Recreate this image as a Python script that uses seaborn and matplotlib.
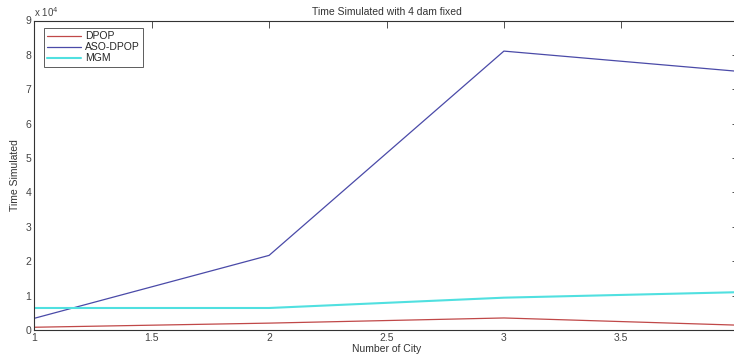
import matplotlib
matplotlib.use("Agg")
import matplotlib.pyplot as plt
import seaborn as sns
import pandas as pd

# Simulation time per number of cities, 4 dams fixed
cities = [1, 2, 3, 4]
dpop = [800, 2000, 3500, 1400]
aso_dpop = [3400, 21700, 81100, 75200]
mgm = [6400, 6400, 9400, 11000]

series_names = ["DPOP", "ASO-DPOP", "MGM"]
colors = ["#c04848", "#4a4aa8", "#50e0e0"]
widths = [0.9, 0.9, 1.5]

df = pd.DataFrame({
    "city": cities * 3,
    "time": dpop + aso_dpop + mgm,
    "method": [n for n in series_names for _ in cities],
})

sns.set_style("white")
plt.rcParams["font.family"] = ["Liberation Sans", "DejaVu Sans"]

fig = plt.figure(figsize=(7.34, 3.54), dpi=100)
W, H = 734, 354
left, right, top, bottom = 34.3, 738.7, 20.5, 330.0
ax = fig.add_axes([left / W, 1 - bottom / H, (right - left) / W, (bottom - top) / H])

for name, c, lw in zip(series_names, colors, widths):
    sub = df[df["method"] == name]
    sns.lineplot(data=sub, x="city", y="time", ax=ax, color=c, linewidth=lw,
                 label=name, estimator=None, sort=False)

ax.set_xlim(1, 4)
ax.set_ylim(0, 90000)
ax.set_xticks([1, 1.5, 2, 2.5, 3, 3.5])
ax.set_xticklabels(["1", "1.5", "2", "2.5", "3", "3.5"])
ax.set_yticks([i * 10000 for i in range(10)])
ax.set_yticklabels([str(i) for i in range(10)])
ax.tick_params(axis="both", which="both", direction="in", length=5, width=0.6,
               labelsize=7.5, colors="#333333", labelcolor="#444444",
               top=True, right=True, pad=2)
for s in ax.spines.values():
    s.set_visible(True)
    s.set_color("#333333")
    s.set_linewidth(0.8)

ax.text(0.0, 1.005, r"x 10$^4$", transform=ax.transAxes, fontsize=7,
        color="#444444", ha="left", va="bottom")
ax.set_xlabel("Number of City", fontsize=7.5, color="#333333", labelpad=1)
ax.set_ylabel("Time Simulated", fontsize=7.5, color="#333333", labelpad=4)
ax.set_title("Time Simulated with 4 dam fixed", fontsize=7.5, color="#333333", pad=4)

leg = ax.legend(loc="upper left", bbox_to_anchor=(0.014, 0.975), fontsize=7.5,
                frameon=True, fancybox=False, borderpad=0.3, labelspacing=0.1,
                handlelength=3.2, handletextpad=0.4, borderaxespad=0)
leg.get_frame().set_edgecolor("#333333")
leg.get_frame().set_linewidth(0.7)

fig.savefig("out.png", dpi=100)
